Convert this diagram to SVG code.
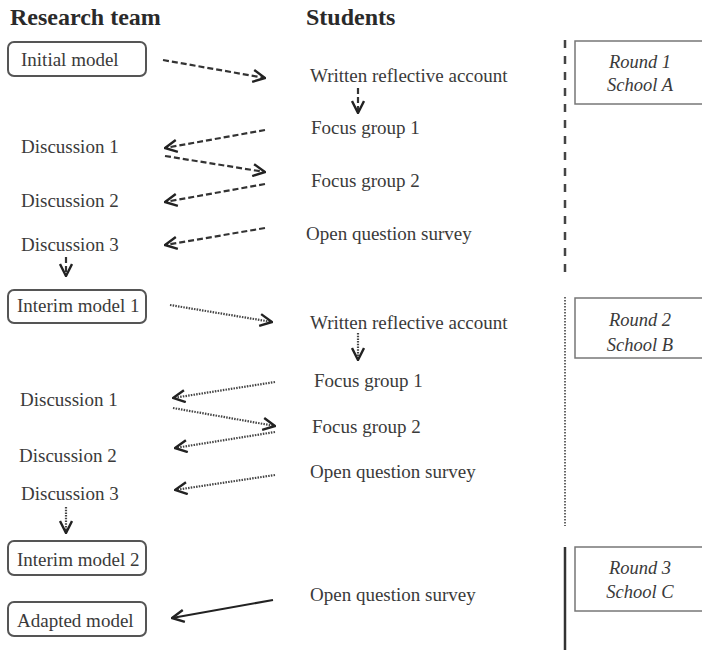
<svg xmlns="http://www.w3.org/2000/svg" width="702" height="650" viewBox="0 0 702 650">
<defs>
<style>
text{font-family:"Liberation Serif","Times New Roman",serif;fill:#3a3a3a;font-size:19px}
.h{font-weight:bold;font-size:24px;fill:#2a2a2a}
.it{font-style:italic;font-size:18.5px;text-anchor:middle}
.box{fill:#fff;stroke:#555;stroke-width:2}
.rbox{fill:#fff;stroke:#777;stroke-width:1.5}
.da{fill:none;stroke:#333;stroke-width:2.2;stroke-dasharray:6 3}
.do{fill:none;stroke:#444;stroke-width:2.2;stroke-dasharray:1.5 1.2}
.so{fill:none;stroke:#222;stroke-width:2}
</style>
<marker id="ah" viewBox="0 0 14 14" refX="13" refY="7" markerWidth="14" markerHeight="14" markerUnits="userSpaceOnUse" orient="auto">
<path d="M1,1 L13,7 L1,13" fill="none" stroke="#222" stroke-width="2.4"/>
</marker>
</defs>
<rect width="702" height="650" fill="#fff"/>
<g id="headers">
<text class="h" x="10" y="25">Research team</text>
<text class="h" x="306" y="25">Students</text>
</g>
<g id="initial-model"><rect class="box" x="8" y="42" width="138" height="34" rx="6"/><text x="21" y="66">Initial model</text></g>
<g id="r1-written"><text x="310" y="82">Written reflective account</text></g>
<g id="r1-fg1"><text x="311" y="134">Focus group 1</text></g>
<g id="r1-fg2"><text x="311" y="187">Focus group 2</text></g>
<g id="r1-survey"><text x="306" y="240">Open question survey</text></g>
<g id="r1-d1"><text x="21" y="153">Discussion 1</text></g>
<g id="r1-d2"><text x="21" y="207">Discussion 2</text></g>
<g id="r1-d3"><text x="21" y="251">Discussion 3</text></g>
<g id="interim-model-1"><rect class="box" x="8" y="290" width="138" height="33" rx="6"/><text x="17" y="312">Interim model 1</text></g>
<g id="r2-written"><text x="310" y="329">Written reflective account</text></g>
<g id="r2-fg1"><text x="314" y="387">Focus group 1</text></g>
<g id="r2-fg2"><text x="312" y="433">Focus group 2</text></g>
<g id="r2-survey"><text x="310" y="478">Open question survey</text></g>
<g id="r2-d1"><text x="20" y="406">Discussion 1</text></g>
<g id="r2-d2"><text x="19" y="462">Discussion 2</text></g>
<g id="r2-d3"><text x="21" y="500">Discussion 3</text></g>
<g id="interim-model-2"><rect class="box" x="8" y="541" width="138" height="34" rx="6"/><text x="17" y="566">Interim model 2</text></g>
<g id="adapted-model"><rect class="box" x="8" y="602" width="138" height="34" rx="6"/><text x="17" y="627">Adapted model</text></g>
<g id="r3-survey"><text x="310" y="601">Open question survey</text></g>
<g id="round1"><rect class="rbox" x="575" y="41" width="130" height="63"/><text class="it" x="640" y="68">Round 1</text><text class="it" x="640" y="91">School A</text></g>
<g id="round2"><rect class="rbox" x="575" y="298" width="130" height="60"/><text class="it" x="640" y="326">Round 2</text><text class="it" x="640" y="351">School B</text></g>
<g id="round3"><rect class="rbox" x="575" y="547" width="130" height="64"/><text class="it" x="640" y="574">Round 3</text><text class="it" x="640" y="598">School C</text></g>
<g id="connectors">
<line class="da" x1="163" y1="60" x2="265" y2="78" marker-end="url(#ah)"/>
<line class="da" x1="358" y1="88" x2="358" y2="113" marker-end="url(#ah)"/>
<line class="da" x1="265" y1="130" x2="165" y2="148" marker-end="url(#ah)"/>
<line class="da" x1="165" y1="156" x2="265" y2="172" marker-end="url(#ah)"/>
<line class="da" x1="265" y1="184" x2="165" y2="202" marker-end="url(#ah)"/>
<line class="da" x1="265" y1="228" x2="165" y2="245" marker-end="url(#ah)"/>
<line class="da" x1="66" y1="257" x2="66" y2="276" marker-end="url(#ah)"/>
<line class="do" x1="170" y1="305" x2="272" y2="322" marker-end="url(#ah)"/>
<line class="do" x1="358" y1="333" x2="358" y2="360" marker-end="url(#ah)"/>
<line class="do" x1="275" y1="382" x2="173" y2="398" marker-end="url(#ah)"/>
<line class="do" x1="173" y1="408" x2="275" y2="426" marker-end="url(#ah)"/>
<line class="do" x1="275" y1="432" x2="175" y2="448" marker-end="url(#ah)"/>
<line class="do" x1="275" y1="475" x2="175" y2="490" marker-end="url(#ah)"/>
<line class="do" x1="66" y1="507" x2="66" y2="533" marker-end="url(#ah)"/>
<line class="so" x1="273" y1="600" x2="172" y2="618" marker-end="url(#ah)"/>
<line fill="none" stroke="#444" stroke-width="2.5" stroke-dasharray="8 8" x1="565" y1="40" x2="565" y2="277"/>
<line fill="none" stroke="#666" stroke-width="2" stroke-dasharray="1.5 1.5" x1="565" y1="297" x2="565" y2="526"/>
<line fill="none" stroke="#333" stroke-width="2.5" x1="565" y1="547" x2="565" y2="650"/>
</g>
</svg>
